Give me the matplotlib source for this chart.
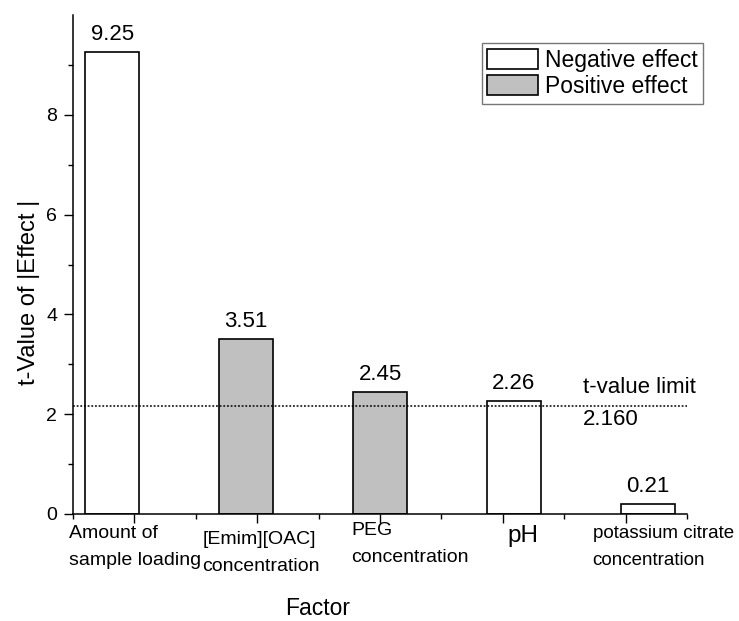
import numpy as np
import matplotlib
matplotlib.use("Agg")
import matplotlib.pyplot as plt
import matplotlib.ticker as ticker
from matplotlib.patches import Patch

plt.rcParams.update({
    "font.family": ["Liberation Sans", "DejaVu Sans"],
    "axes.spines.top": False,
    "axes.spines.right": False,
    "figure.facecolor": "white",
    "axes.facecolor": "white",
})

# data
factors = ["Amount of\nsample loading", "[Emim][OAC]\nconcentration",
           "PEG\nconcentration", "pH", "potassium citrate\nconcentration"]
t_values = [9.25, 3.51, 2.45, 2.26, 0.21]
effect = ["neg", "pos", "pos", "neg", "neg"]
t_limit = 2.160

FILL = {"neg": "white", "pos": "#c0c0c0"}

fig = plt.figure(figsize=(7.39, 6.21), dpi=100)
ax = fig.add_axes([73 / 739, 1 - 514 / 621, 614 / 739, 499 / 621])

ticks = np.arange(1, len(factors) + 1)
# bars sit on a slightly wider pitch than the category ticks in the original
bar_x = 3 + (ticks - 3) * 1.09
ax.bar(bar_x, t_values, width=0.44,
       color=[FILL[e] for e in effect], edgecolor="black", linewidth=1.2)

for x, v in zip(bar_x, t_values):
    ax.annotate(f"{v:.2f}", (x, v), xytext=(0, 7), textcoords="offset pixels",
                ha="center", va="bottom", fontsize=16)

ax.axhline(t_limit, color="black", lw=1.1, ls=(0, (1.2, 1.2)))
ax.annotate("t-value limit", (4.65, t_limit), xytext=(0, 8), textcoords="offset pixels",
            ha="left", va="bottom", fontsize=16)
ax.annotate(f"{t_limit:.3f}", (4.65, t_limit), xytext=(0, -19), textcoords="offset pixels",
            ha="left", va="baseline", fontsize=16)

ax.set_xlim(0.5, 5.5)
ax.set_ylim(0, 10)
ax.yaxis.set_major_locator(ticker.FixedLocator([0, 2, 4, 6, 8]))
ax.yaxis.set_minor_locator(ticker.FixedLocator([1, 3, 5, 7, 9]))
ax.xaxis.set_major_locator(ticker.FixedLocator(ticks))
ax.xaxis.set_minor_locator(ticker.FixedLocator(np.arange(0.5, 6, 1.0)))
ax.set_xticklabels([])
ax.tick_params(which="major", direction="out", length=6.5, width=1.0, labelsize=14, pad=5)
ax.tick_params(which="minor", direction="out", length=3.6, width=1.0)
for s in ("left", "bottom"):
    ax.spines[s].set_linewidth(1.1)

# category labels, hand-placed like the original
label_dx = [-65, -55, -29, 5, -33]
label_dy = [-11, -17, -8, -11, -11]
label_fs = [14, 14, 14, 17.5, 13.5]
for t, lab, dx, dy, fs in zip(ticks, factors, label_dx, label_dy, label_fs):
    ax.annotate(lab, (t, 0), xycoords=("data", "axes fraction"),
                xytext=(dx, dy), textcoords="offset pixels",
                ha="left", va="top", fontsize=fs, linespacing=1.8)

ax.set_ylabel("t-Value of |Effect |", fontsize=17)
ax.yaxis.set_label_coords(-0.054, 0.445)
ax.set_xlabel("Factor", fontsize=16.5)
ax.xaxis.set_label_coords(0.398, -0.166)

handles = [Patch(facecolor="white", edgecolor="black", linewidth=1.2, label="Negative effect"),
           Patch(facecolor="#c0c0c0", edgecolor="black", linewidth=1.2, label="Positive effect")]
leg = fig.legend(handles=handles, loc="upper right", bbox_to_anchor=(703 / 739, 1 - 43 / 621),
                 fontsize=16.5, frameon=True, fancybox=False, borderaxespad=0,
                 handlelength=2.2, handleheight=0.95, handletextpad=0.3,
                 labelspacing=0.15, borderpad=0.25)
leg.get_frame().set_edgecolor("#555555")
leg.get_frame().set_linewidth(1.0)

fig.savefig("out.png", dpi=100)
